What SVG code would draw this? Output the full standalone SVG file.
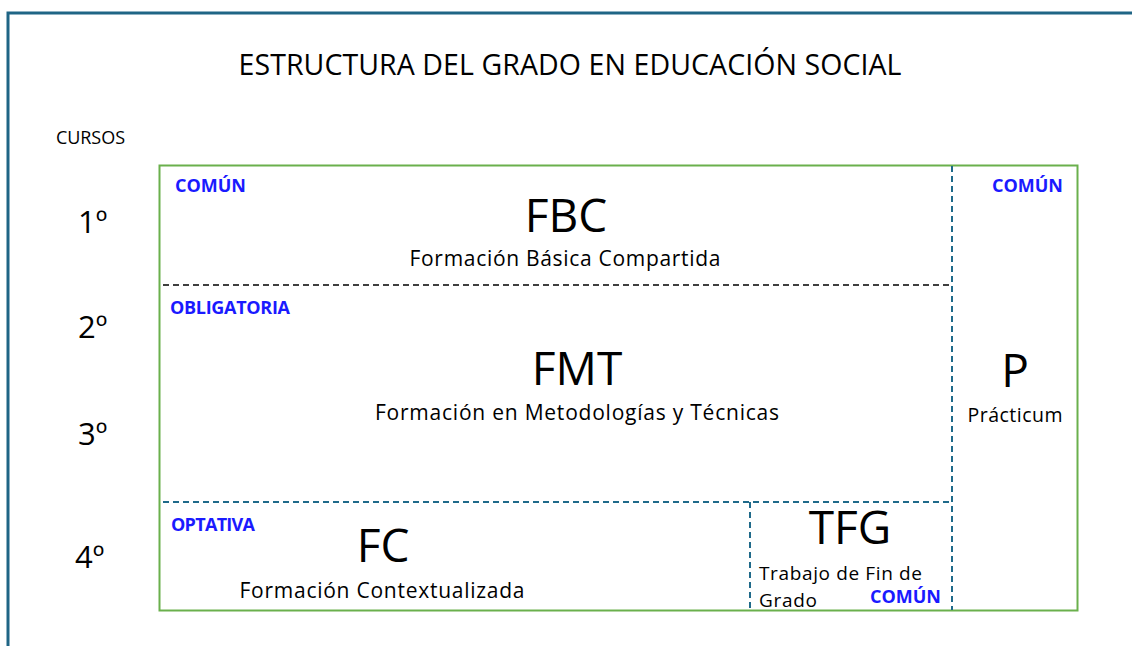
<svg xmlns="http://www.w3.org/2000/svg" width="1132" height="646" viewBox="0 0 1132 646">
<style>
text{font-family:"Open Sans","Noto Sans","Liberation Sans",sans-serif;fill:#000}
.big{font-size:46px;text-anchor:middle}
.sub{font-size:21px;text-anchor:middle}
.tag{font-size:18px;font-weight:bold;fill:#1a1aff}
.yr{font-size:31px}
.dk{stroke:#000;stroke-width:1.5;stroke-dasharray:6 4;fill:none}
.bl{stroke:#1f6a8a;stroke-width:2;stroke-dasharray:6 4;fill:none}
</style>
<rect width="1132" height="646" fill="#fff"/>
<path d="M8 646 V13 H1132" fill="none" stroke="#1f6585" stroke-width="3"/>
<text x="570" y="75" font-size="28.5" text-anchor="middle" textLength="663">ESTRUCTURA DEL GRADO EN EDUCACIÓN SOCIAL</text>
<text x="56" y="144" font-size="18" textLength="69">CURSOS</text>
<g id="years">
<text class="yr" x="78" y="233">1º</text>
<text class="yr" x="78" y="338">2º</text>
<text class="yr" x="78" y="445">3º</text>
<text class="yr" x="75" y="568">4º</text>
</g>
<rect x="159.5" y="165.5" width="918" height="445" fill="none" stroke="#6ab04c" stroke-width="2"/>
<g id="connectors">
<line class="dk" x1="163" y1="285" x2="952" y2="285"/>
<line class="bl" x1="952" y1="166" x2="952" y2="610"/>
<line class="bl" x1="163" y1="502" x2="952" y2="502"/>
<line class="bl" x1="750" y1="502" x2="750" y2="610"/>
</g>
<g id="fbc">
<text class="tag" x="175" y="192" textLength="71">COMÚN</text>
<text class="big" x="566" y="232">FBC</text>
<text class="sub" x="565" y="266" textLength="311">Formación Básica Compartida</text>
</g>
<g id="fmt">
<text class="tag" x="170" y="314" textLength="120">OBLIGATORIA</text>
<text class="big" x="577" y="385">FMT</text>
<text class="sub" x="577" y="420" textLength="404">Formación en Metodologías y Técnicas</text>
</g>
<g id="fc">
<text class="tag" x="171" y="531" textLength="84">OPTATIVA</text>
<text class="big" x="383" y="562">FC</text>
<text class="sub" x="382" y="598" textLength="285">Formación Contextualizada</text>
</g>
<g id="tfg">
<text class="big" x="850" y="544">TFG</text>
<text x="759" y="580" font-size="19" textLength="163">Trabajo de Fin de</text>
<text x="759" y="607" font-size="19" textLength="58">Grado</text>
<text class="tag" x="870" y="603" textLength="71">COMÚN</text>
</g>
<g id="p">
<text class="tag" x="992" y="192" textLength="71">COMÚN</text>
<text class="big" x="1015" y="387">P</text>
<text x="1015" y="422" font-size="19.5" text-anchor="middle" textLength="95">Prácticum</text>
</g>
</svg>
